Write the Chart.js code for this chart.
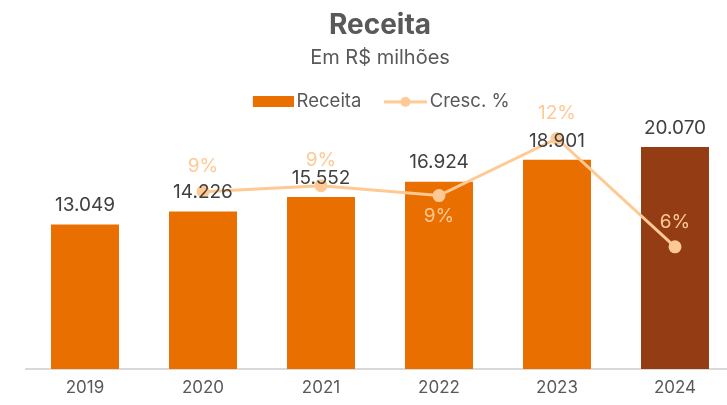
<!DOCTYPE html>
<html>
<head>
<meta charset="utf-8">
<script src="https://cdn.jsdelivr.net/npm/chart.js@4.4.1/dist/chart.umd.min.js"></script>
<style>
    html, body { margin: 0; padding: 0; background: #fff; overflow: hidden; }
    #chart { display: block; width: 735px; height: 405px; }
</style>
</head>
<body>
<canvas id="chart" width="735" height="405"></canvas>
<script>
// data
const years = ['2019', '2020', '2021', '2022', '2023', '2024'];
const receita = [13049, 14226, 15552, 16924, 18901, 20070];
const receitaLabels = ['13.049', '14.226', '15.552', '16.924', '18.901', '20.070'];
const cresc = [null, 9.0, 9.3, 8.8, 11.7, 6.2];
const crescLabels = ['', '9%', '9%', '9%', '12%', '6%'];
const crescLabelSide = ['', 'above', 'above', 'below', 'above', 'above'];

const ORANGE = '#E97000';
const BROWN = '#943C14';
const PEACH = '#FFC994';
const TEXT = '#404040';
const GREY = '#595959';
const FONT = 'Inter, "Open Sans", sans-serif';

const barColors = years.map((y, i) => i === years.length - 1 ? BROWN : ORANGE);

// legend swatches (transparent margin on the left keeps the spacing like the original)
function makeBoxSwatch() {
    const c = document.createElement('canvas');
    c.width = 50; c.height = 11;
    const g = c.getContext('2d');
    g.fillStyle = ORANGE;
    g.fillRect(9, 0, 41, 11);
    return c;
}
function makeLineSwatch() {
    const c = document.createElement('canvas');
    c.width = 50; c.height = 12;
    const g = c.getContext('2d');
    g.strokeStyle = PEACH;
    g.lineWidth = 3;
    g.beginPath(); g.moveTo(7, 6); g.lineTo(50, 6); g.stroke();
    g.fillStyle = PEACH;
    g.beginPath(); g.arc(28.5, 6, 5, 0, Math.PI * 2); g.fill();
    return c;
}
const legendSwatches = [makeBoxSwatch(), makeLineSwatch()];

// value labels above bars and near line points
const valueLabels = {
    id: 'valueLabels',
    afterDatasetsDraw(chart) {
        const ctx = chart.ctx;
        ctx.save();
        ctx.textAlign = 'center';
        ctx.textBaseline = 'middle';
        ctx.font = '19px ' + FONT;

        const barMeta = chart.getDatasetMeta(0);
        ctx.fillStyle = TEXT;
        barMeta.data.forEach((bar, i) => {
            ctx.fillText(receitaLabels[i], bar.x, bar.y - 19);
        });

        const lineMeta = chart.getDatasetMeta(1);
        ctx.fillStyle = PEACH;
        lineMeta.data.forEach((pt, i) => {
            if (!crescLabels[i]) return;
            const dy = crescLabelSide[i] === 'below' ? 21 : -25;
            ctx.fillText(crescLabels[i], pt.x, pt.y + dy);
        });
        ctx.restore();
    }
};

new Chart(document.getElementById('chart'), {
    data: {
        labels: years,
        datasets: [{
            type: 'bar',
            label: 'Receita',
            data: receita,
            backgroundColor: barColors,
            barPercentage: 0.576,
            categoryPercentage: 1,
            yAxisID: 'y',
            order: 2
        }, {
            type: 'line',
            label: 'Cresc. %',
            data: cresc,
            borderColor: PEACH,
            backgroundColor: PEACH,
            borderWidth: 3,
            pointStyle: 'circle',
            pointRadius: 5,
            pointHoverRadius: 5,
            tension: 0,
            yAxisID: 'y2',
            order: 1
        }]
    },
    options: {
        responsive: false,
        animation: false,
        // canvas is a bit wider than the window: the last band runs past the edge like the original
        layout: { autoPadding: false, padding: { left: 26, right: 1, top: 0, bottom: 0 } },
        plugins: {
            title: {
                display: true,
                text: 'Receita',
                color: GREY,
                font: { family: FONT, size: 28, weight: 'bold' },
                padding: { top: 9, bottom: 3 }
            },
            subtitle: {
                display: true,
                text: 'Em R$ milhões',
                color: GREY,
                font: { family: FONT, size: 20 },
                padding: { top: 0, bottom: 1 }
            },
            legend: {
                position: 'top',
                labels: {
                    usePointStyle: true,
                    pointStyleWidth: 37,
                    color: GREY,
                    font: { family: FONT, size: 18.5 },
                    padding: 22,
                    generateLabels(chart) {
                        return chart.data.datasets.map((ds, i) => ({
                            text: ds.label,
                            pointStyle: legendSwatches[i],
                            fontColor: GREY,
                            lineWidth: 0,
                            datasetIndex: i,
                            hidden: false
                        }));
                    }
                }
            },
            tooltip: { enabled: false }
        },
        scales: {
            x: {
                grid: { display: false, drawTicks: false },
                border: { display: true, color: '#D9D9D9', width: 2 },
                ticks: {
                    color: GREY,
                    font: { family: FONT, size: 17 },
                    padding: 9
                },
                afterFit(scale) { scale.height = 36; }
            },
            y: {
                display: false,
                min: 0,
                max: 22400
            },
            y2: {
                display: false,
                min: 0,
                max: 12.58
            }
        }
    },
    plugins: [valueLabels]
});
</script>
</body>
</html>
